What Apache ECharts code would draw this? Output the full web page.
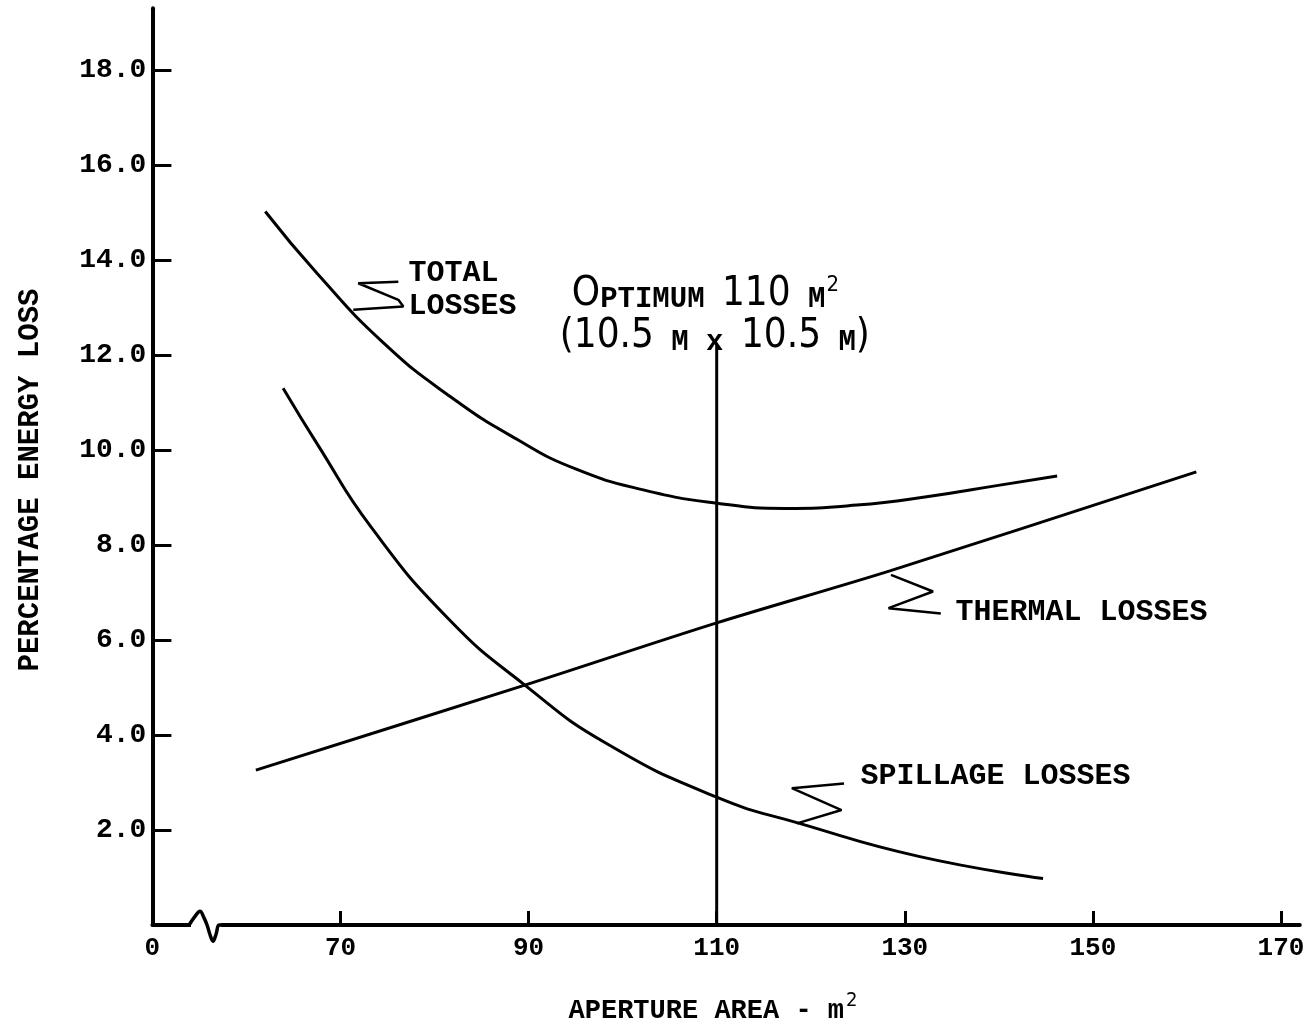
<!DOCTYPE html>
<html><head><meta charset="utf-8">
<script src="https://cdn.jsdelivr.net/npm/echarts@6/dist/echarts.min.js"></script>
<style>html,body{margin:0;padding:0;background:#fff}#c{width:1309px;height:1029px}</style>
</head><body><div id="c"></div>
<script>
// ---- data ----
const xTicks = [50, 70, 90, 110, 130, 150, 170];
const xTickLabels = ['0', '70', '90', '110', '130', '150', '170'];
const yTicks = [2, 4, 6, 8, 10, 12, 14, 16, 18];
const totalLosses = [[62.0,15.02],[67.5,13.72],[74.6,12.25],[81.7,11.12],[88.8,10.22],[95.0,9.60],[102.2,9.16],[110,8.88],[117.3,8.77],[124.9,8.84],[132.5,9.02],[140.1,9.26],[146.2,9.45]];
const spillageLosses = [[63.9,11.30],[67.7,10.07],[73.2,8.39],[81.6,6.42],[89.6,5.05],[98.2,3.83],[110,2.69],[118.8,2.14],[131.6,1.44],[144.7,0.98]];
const thermalLosses = [[61.0,3.26],[89.6,5.05],[110,6.36],[128.5,7.46],[161.0,9.54]];
const optimumLine = [[110,0],[110,12.21]];
// annotation leaders (data coordinates)
const totalPointer = [[76.15,13.54],[71.89,13.51],[76.15,13.16],[76.68,13.02],[71.36,12.95]];
const thermalPointer = [[133.83,6.56],[128.27,6.67],[133.0,7.02],[128.53,7.37]];
const spillagePointer = [[123.54,2.98],[117.99,2.88],[123.27,2.42],[118.54,2.14]];
const breakCover = [[54.1,0],[57.3,0]];
const breakWiggle = [[53.9,0],[54.53,0.18],[55.06,0.29],[55.49,0.15],[55.81,0],[56.12,-0.2],[56.44,-0.34],[56.76,-0.2],[57.08,0],[57.45,0]];
// text anchors (data coordinates)
const labelTotal = [77.22, 13.71];
const labelTotal2 = [77.22, 13.02];
const labelThermal = [135.38, 6.59];
const labelSpillage = [125.28, 3.12];
const labelOpt1 = [108.8, 12.86];
const labelOpt2 = [109.8, 11.96];

const MONO = "'Liberation Mono','DejaVu Sans Mono',monospace";
const NARROW = "'Liberation Sans Narrow','DejaVu Sans Condensed',sans-serif";

const chart = echarts.init(document.getElementById('c'), null, {renderer: 'canvas'});
function lineSeries(data, opts) {
  return Object.assign({
    type: 'line', data: data, showSymbol: false, symbol: 'none', silent: true,
    lineStyle: {color: '#000', width: 3}, z: 3, animation: false
  }, opts || {});
}
const option = {
  animation: false,
  backgroundColor: '#fff',
  grid: {left: 152.4, right: 9.2, top: 8.2, bottom: 104, containLabel: false},
  xAxis: {
    type: 'value', min: 50, max: 172,
    axisLine: {show: true, onZero: false, lineStyle: {color: '#000', width: 4}},
    axisTick: {show: true, inside: true, length: 14, customValues: xTicks.slice(1), lineStyle: {color: '#000', width: 3}},
    axisLabel: {customValues: xTicks, formatter: v => xTickLabels[xTicks.indexOf(v)] || '',
      color: '#000', fontFamily: MONO, fontWeight: 'bold', fontSize: 26, margin: 10},
    splitLine: {show: false}
  },
  yAxis: {
    type: 'value', min: 0, max: 19.3,
    axisLine: {show: true, lineStyle: {color: '#000', width: 4}},
    axisTick: {show: true, inside: true, length: 19, customValues: yTicks, lineStyle: {color: '#000', width: 3}},
    axisLabel: {customValues: yTicks, formatter: v => v.toFixed(1),
      color: '#000', fontFamily: MONO, fontWeight: 'bold', fontSize: 28, margin: 6},
    splitLine: {show: false}
  },
  series: [
    lineSeries(totalLosses, {name: 'Total losses', smooth: 0.5}),
    lineSeries(spillageLosses, {name: 'Spillage losses', smooth: 0.5}),
    lineSeries(thermalLosses, {name: 'Thermal losses', smooth: 0.3}),
    lineSeries(optimumLine, {name: 'Optimum'}),
    lineSeries(totalPointer, {lineStyle: {color: '#000', width: 2.5}}),
    lineSeries(thermalPointer, {lineStyle: {color: '#000', width: 2.5}}),
    lineSeries(spillagePointer, {lineStyle: {color: '#000', width: 2.5}}),
    lineSeries(breakCover, {lineStyle: {color: '#fff', width: 8}, clip: false, z: 4}),
    lineSeries(breakWiggle, {smooth: 0.4, lineStyle: {color: '#000', width: 3.5}, clip: false, z: 5})
  ]
};
chart.setOption(option);

function px(p) { return chart.convertToPixel({gridIndex: 0}, p); }
function txt(pos, text, align, extra) {
  const p = px(pos);
  return Object.assign({
    type: 'text', x: p[0], y: p[1], z: 10, silent: true,
    style: {text: text, fill: '#000', fontFamily: MONO, fontWeight: 'bold', fontSize: 30,
      align: align, verticalAlign: 'middle'}
  }, extra || {});
}
const richOpt = {
  b: {fontFamily: NARROW, fontSize: 40, fill: '#000', lineHeight: 24, verticalAlign: 'bottom'},
  s: {fontFamily: MONO, fontWeight: 'bold', fontSize: 29, fill: '#000', lineHeight: 18, verticalAlign: 'bottom'},
  u: {fontFamily: NARROW, fontSize: 22, fill: '#000', lineHeight: 18, verticalAlign: 'bottom', padding: [0, 0, 18, 1]}
};
const p1 = px(labelOpt1), p2 = px(labelOpt2);
chart.setOption({
  graphic: [
    txt(labelTotal, 'TOTAL', 'left'),
    txt(labelTotal2, 'LOSSES', 'left'),
    txt(labelThermal, 'THERMAL LOSSES', 'left'),
    txt(labelSpillage, 'SPILLAGE LOSSES', 'left'),
    {type: 'text', x: p1[0], y: p1[1], z: 10, silent: true,
     style: {text: '{b|O}{s|PTIMUM }{b|110}{s| M}{u|2}', rich: richOpt, align: 'center', verticalAlign: 'bottom'}},
    {type: 'text', x: p2[0], y: p2[1], z: 10, silent: true,
     style: {text: '{b|(10.5}{s| M x }{b|10.5}{s| M}{b|)}', rich: richOpt, align: 'center', verticalAlign: 'bottom'}},
    {type: 'text', x: 31, y: 480, rotation: Math.PI / 2, z: 10, silent: true,
     style: {text: 'PERCENTAGE ENERGY LOSS', fill: '#000', fontFamily: MONO, fontWeight: 'bold', fontSize: 29,
       align: 'center', verticalAlign: 'middle'}},
    {type: 'text', x: 713, y: 1025, z: 10, silent: true,
     style: {text: '{a|APERTURE AREA - m}{t|2}', align: 'center', verticalAlign: 'bottom',
       rich: {
         a: {fontFamily: MONO, fontWeight: 'bold', fontSize: 27, fill: '#000', lineHeight: 16, verticalAlign: 'bottom'},
         t: {fontFamily: NARROW, fontSize: 20, fill: '#000', lineHeight: 16, verticalAlign: 'bottom', padding: [0, 0, 14, 2]}
       }}}
  ]
});
</script>
</body></html>
